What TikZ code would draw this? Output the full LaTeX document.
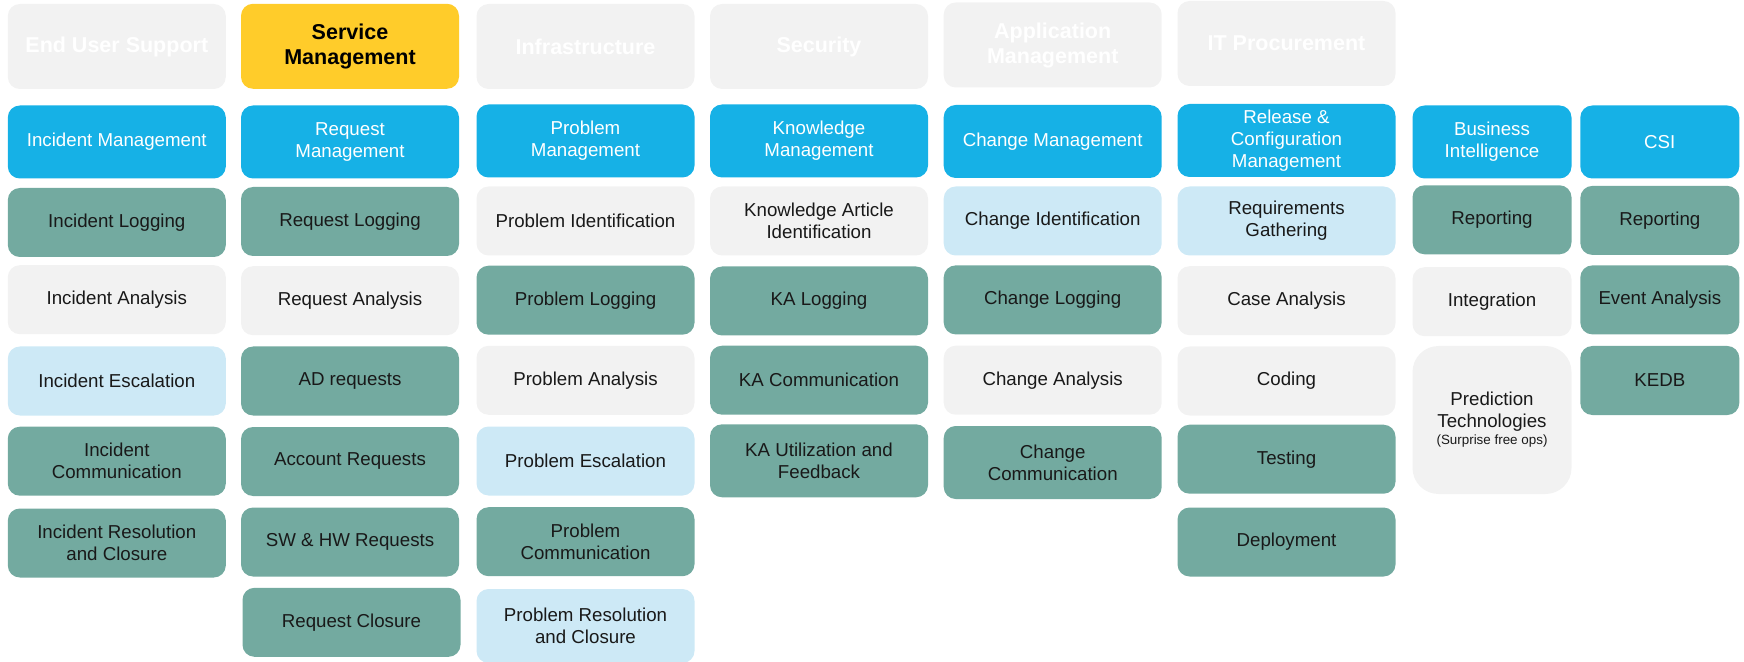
\documentclass[tikz,border=0pt]{standalone}
\usepackage{fontspec}
\setmainfont{Liberation Sans}
\usepackage{xcolor}
\usepackage{tikz}

\definecolor{procblue}{RGB}{22,177,230}
\definecolor{doneteal}{RGB}{115,170,160}
\definecolor{opengray}{RGB}{242,242,242}
\definecolor{partblue}{RGB}{205,233,246}
\definecolor{svcyellow}{RGB}{255,204,42}

\begin{document}
\begin{tikzpicture} [x=0.5pt, y=-0.5pt, font=\fontsize{9.35pt}{11pt}\selectfont,
	every node/.style = {align=center, inner sep=0pt, rounded corners=6pt, minimum width=109pt, minimum height=34.5pt, text=black!90},
	head/.style = {fill=opengray, text=white, font=\bfseries\fontsize{10.75pt}{12.5pt}\selectfont, minimum height=42.5pt},
	proc/.style = {fill=procblue, text=white, minimum height=36.5pt},
	donebox/.style = {fill=doneteal},
	openbox/.style = {fill=opengray},
	partbox/.style = {fill=partblue},
	narrow/.style = {minimum width=79.5pt}]
			% Page frame (pixels of the reference, y downwards)
			\useasboundingbox (0,0) rectangle (1744,662);
			% Header row
			\node (eus) [head] at (116.8,46.5) {End User Support};
			\node (svcmgmt) [head, fill=svcyellow, text=black] at (350,46.3) {Service\\Management};
			\node (infra) [head] at (585.5,46.5) {Infrastructure};
			\node (sec) [head] at (819,46.5) {Security};
			\node (appmgmt) [head] at (1052.7,45) {Application\\Management};
			\node (itproc) [head] at (1286.5,43.5) {IT Procurement};
			% Process row
			\node (incmgmt) [proc] at (116.8,142) {Incident Management};
			\node (reqmgmt) [proc] at (350,142) {Request\\Management};
			\node (prbmgmt) [proc] at (585.5,141) {Problem\\Management};
			\node (kmgmt) [proc] at (819,141) {Knowledge\\Management};
			\node (chgmgmt) [proc] at (1052.7,141.5) {Change Management};
			\node (relmgmt) [proc] at (1286.5,140.5) {Release \&\\Configuration\\Management};
			\node (bi) [proc, narrow] at (1492,142) {Business\\Intelligence};
			\node (csi) [proc, narrow] at (1659.8,142) {CSI};
			% Incident Management
			\node (inclog) [donebox] at (116.8,222.5) {Incident Logging};
			\node (incana) [openbox] at (116.8,299.7) {Incident Analysis};
			\node (incesc) [partbox] at (116.8,381) {Incident Escalation};
			\node (inccom) [donebox] at (116.8,461.2) {Incident\\Communication};
			\node (incres) [donebox] at (116.8,543) {Incident Resolution\\and Closure};
			% Request Management
			\node (reqlog) [donebox] at (350,221.5) {Request Logging};
			\node (reqana) [openbox] at (350,300.7) {Request Analysis};
			\node (adreq) [donebox] at (350,381) {AD requests};
			\node (accreq) [donebox] at (350,461.5) {Account Requests};
			\node (swhw) [donebox] at (350,542) {SW \& HW Requests};
			\node (reqclose) [donebox] at (351.5,622.3) {Request Closure};
			% Problem Management
			\node (prbid) [openbox] at (585.5,221) {Problem Identification};
			\node (prblog) [donebox] at (585.5,300.2) {Problem Logging};
			\node (prbana) [openbox] at (585.5,380.3) {Problem Analysis};
			\node (prbesc) [partbox] at (585.5,461) {Problem Escalation};
			\node (prbcom) [donebox] at (585.5,541.7) {Problem\\Communication};
			\node (prbres) [partbox, minimum height=37pt] at (585.5,626) {Problem Resolution\\and Closure};
			% Knowledge Management
			\node (kaid) [openbox] at (819,221) {Knowledge Article\\Identification};
			\node (kalog) [donebox] at (819,301) {KA Logging};
			\node (kacom) [donebox] at (819,380.2) {KA Communication};
			\node (kautil) [donebox, minimum height=36.5pt] at (819,460.8) {KA Utilization and\\Feedback};
			% Change Management
			\node (chgid) [partbox] at (1052.7,221) {Change Identification};
			\node (chglog) [donebox] at (1052.7,299.9) {Change Logging};
			\node (chgana) [openbox] at (1052.7,380.2) {Change Analysis};
			\node (chgcom) [donebox, minimum height=36.5pt] at (1052.7,462.5) {Change\\Communication};
			% Release & Configuration Management
			\node (reqgath) [partbox] at (1286.5,221) {Requirements\\Gathering};
			\node (caseana) [openbox] at (1286.5,300.7) {Case Analysis};
			\node (coding) [openbox] at (1286.5,381) {Coding};
			\node (testing) [donebox] at (1286.5,459.2) {Testing};
			\node (deploy) [donebox] at (1286.5,542) {Deployment};
			% Business Intelligence
			\node (bireport) [donebox, narrow] at (1492,219.8) {Reporting};
			\node (integ) [openbox, narrow] at (1492,301.7) {Integration};
			\node (predict) [openbox, narrow, minimum height=74pt, rounded corners=13pt] at (1492,420)
			{Prediction\\Technologies\\[-2.5pt]{\fontsize{6.7pt}{8pt}\selectfont (Surprise free ops)}};
			% CSI
			\node (csirep) [donebox, narrow] at (1659.8,220.4) {Reporting};
			\node (eventana) [donebox, narrow] at (1659.8,299.9) {Event Analysis};
			\node (kedb) [donebox, narrow] at (1659.8,380.5) {KEDB};
		\end{tikzpicture}
\end{document}
